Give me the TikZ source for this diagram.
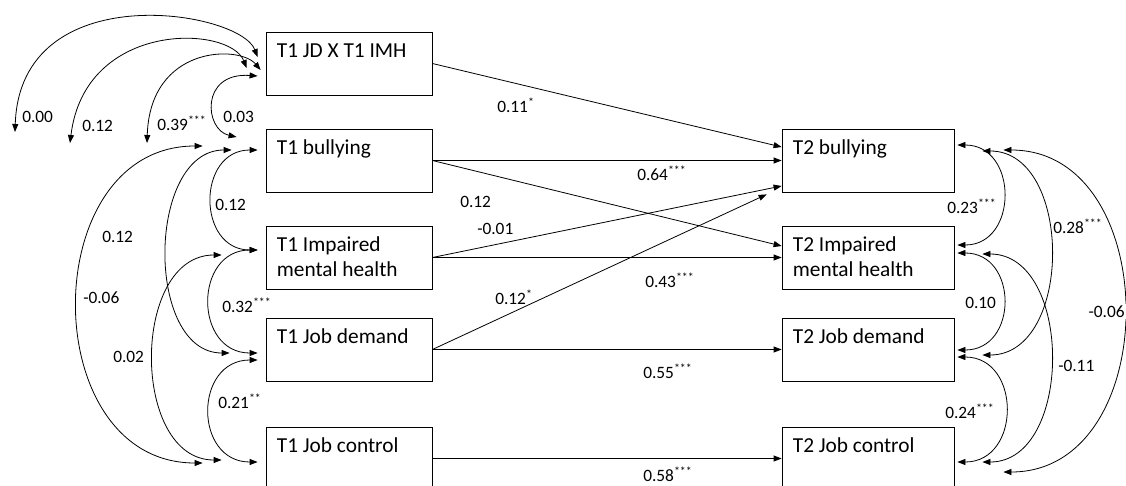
\documentclass[tikz,border=0pt]{standalone}
\usepackage{fontspec}
\setmainfont{Carlito}
\usetikzlibrary{arrows.meta,calc}
\newcommand{\sgf}[1]{\textsuperscript{\fontsize{9}{9}\selectfont #1}}
\begin{document}
\begin{tikzpicture}[x=0.75pt,y=-0.75pt,
  box/.style={draw, line width=0.6pt, inner sep=0pt, minimum height=47.25pt},
  lbox/.style={box, minimum width=124.5pt},
  rbox/.style={box, minimum width=129pt},
  btxt/.style={inner sep=0pt, anchor=base west, align=left, font=\fontsize{16}{18.75}\selectfont},
  lab/.style={inner sep=0pt, anchor=base west, font=\fontsize{13}{15}\selectfont},
  tip/.tip={Triangle[length=6pt,width=4.5pt]},
  arr/.style={line width=0.6pt, -tip},
  dbl/.style={line width=0.6pt, tip-tip},
]
\useasboundingbox (0,0) rectangle (1126,485);
\clip (0,0) rectangle (1126,485);

% boxes
\node[lbox] (jd) at (349,63.5) {};
\node[lbox] (b1) at (349,160.5) {};
\node[lbox] (m1) at (349,257.5) {};
\node[lbox] (d1) at (349,349.5) {};
\node[lbox] (c1) at (349,458.5) {};
\node[rbox] (b2) at (868,160.5) {};
\node[rbox] (m2) at (868,257.5) {};
\node[rbox] (d2) at (868,349.5) {};
\node[rbox] (c2) at (868,458.5) {};

% box texts
\node[btxt] (tjd) at ($(jd.north west)+(11,26)$) {T1 JD X T1 IMH};
\node[btxt] (tb1) at ($(b1.north west)+(11,26)$) {T1 bullying};
\node[btxt] (tm1) at ($(m1.north west)+(11,51)$) {T1 Impaired\\mental health};
\node[btxt] (td1) at ($(d1.north west)+(11,26)$) {T1 Job demand};
\node[btxt] (tc1) at ($(c1.north west)+(11,26)$) {T1 Job control};
\node[btxt] (tb2) at ($(b2.north west)+(11,26)$) {T2 bullying};
\node[btxt] (tm2) at ($(m2.north west)+(11,51)$) {T2 Impaired\\mental health};
\node[btxt] (td2) at ($(d2.north west)+(11,26)$) {T2 Job demand};
\node[btxt] (tc2) at ($(c2.north west)+(11,26)$) {T2 Job control};

% free ends
\coordinate (f1) at (15,132);
\coordinate (f2) at (70,143);
\coordinate (f3) at (147,143);

% straight paths
\draw[arr] (jd.east) -- ($(b2.west)+(0,-13.5)$);
\draw[arr] (b1.east) -- (b2.west);
\draw[arr] (b1.east) -- ($(m2.west)+(0,-11.5)$);
\draw[arr] (m1.east) -- ($(b2.west)+(0,25.5)$);
\draw[arr] (m1.east) -- (m2.west);
\draw[arr] (d1.east) -- ($(b2.south west)+(-15,2)$);
\draw[arr] (d1.east) -- (d2.west);
\draw[arr] (c1.east) -- (c2.west);

% top-left free arcs
\draw[dbl] ($(jd.west)+(-8,-6.5)$) .. controls +(-18,-47) and +(5,-157) .. (f1);
\draw[dbl] ($(jd.west)+(-19,4.5)$) .. controls +(-17,-43) and +(15,-123) .. (f2);
\draw[dbl] ($(jd.west)+(-5,6.5)$) .. controls +(-21,-25) and +(3,-98) .. (f3);
\draw[dbl] ($(jd.west)+(-8,12.5)$) .. controls +(-58,-4) and +(-32,-7) .. ($(b1.west)+(-29,-23.5)$);

% left covariances
\draw[dbl] ($(b1.west)+(-8,-10.5)$) .. controls +(-61,0) and +(-61,0) .. ($(m1.west)+(-8,-7.5)$);
\draw[dbl] ($(m1.west)+(-8,-7.5)$) .. controls +(-64,0) and +(-64,0) .. ($(d1.west)+(-8,3.5)$);
\draw[dbl] ($(d1.west)+(-8,10.5)$) .. controls +(-64,0) and +(-64,0) .. ($(c1.west)+(-8,3.5)$);
\draw[dbl] ($(b1.west)+(-34,-10.5)$) .. controls +(-85,0) and +(-85,0) .. ($(d1.west)+(-36,3.5)$);
\draw[dbl] ($(m1.west)+(-44,-2.5)$) .. controls +(-91,0) and +(-91,0) .. ($(c1.west)+(-44,1.5)$);
\draw[dbl] ($(b1.west)+(-63,-14.5)$) .. controls +(-167,0) and +(-167,0) .. ($(c1.west)+(-63,4.5)$);

% right covariances
\draw[dbl] ($(b2.east)+(3,-15.5)$) .. controls +(61,0) and +(61,0) .. ($(m2.east)+(3,-12.5)$);
\draw[dbl] ($(b2.east)+(28,-9.5)$) .. controls +(91,0) and +(91,0) .. ($(d2.east)+(28,5.5)$);
\draw[dbl] ($(b2.east)+(49,-10.5)$) .. controls +(161,0) and +(161,0) .. ($(c2.east)+(49,13.5)$);
\draw[dbl] ($(m2.east)+(3,-4.5)$) .. controls +(61,0) and +(61,0) .. ($(d2.east)+(3,0.5)$);
\draw[dbl] ($(m2.east)+(28,-3.5)$) .. controls +(91,0) and +(91,0) .. ($(c2.east)+(28,3.5)$);
\draw[dbl] ($(d2.east)+(3,7.5)$) .. controls +(64,0) and +(64,0) .. ($(c2.east)+(3,3.5)$);

% labels
\node[lab] (a1) at (22,122.5) {0.00};
\node[lab] (a2) at (82,131.5) {0.12};
\node[lab] (a3) at (157,130.5) {0.39\sgf{***}};
\node[lab] (a4) at (223,122.5) {0.03};
\node[lab] (a5) at (215,210.5) {0.12};
\node[lab] (a6) at (102,242.5) {0.12};
\node[lab] (a7) at (83,303.5) {-0.06};
\node[lab] (a8) at (222,312.5) {0.32\sgf{***}};
\node[lab] (a9) at (113,362.5) {0.02};
\node[lab] (a10) at (218,408.5) {0.21\sgf{**}};
\node[lab] (a11) at (497,112.5) {0.11\sgf{*}};
\node[lab] (a12) at (637,180.5) {0.64\sgf{***}};
\node[lab] (a13) at (460,207.5) {0.12};
\node[lab] (a14) at (477,234.5) {-0.01};
\node[lab] (a15) at (645,287.5) {0.43\sgf{***}};
\node[lab] (a16) at (495,304.5) {0.12\sgf{*}};
\node[lab] (a17) at (643,378.5) {0.55\sgf{***}};
\node[lab] (a18) at (643,481.5) {0.58\sgf{***}};
\node[lab] (a19) at (947,213.5) {0.23\sgf{***}};
\node[lab] (a20) at (1053,233.5) {0.28\sgf{***}};
\node[lab] (a21) at (965,308.5) {0.10};
\node[lab] (a22) at (1058,371.5) {-0.11};
\node[lab, fill=white, inner sep=1pt] (a23) at (1087,317.5) {-0.06};
\node[lab] (a24) at (945,418.5) {0.24\sgf{***}};
\end{tikzpicture}
\end{document}
